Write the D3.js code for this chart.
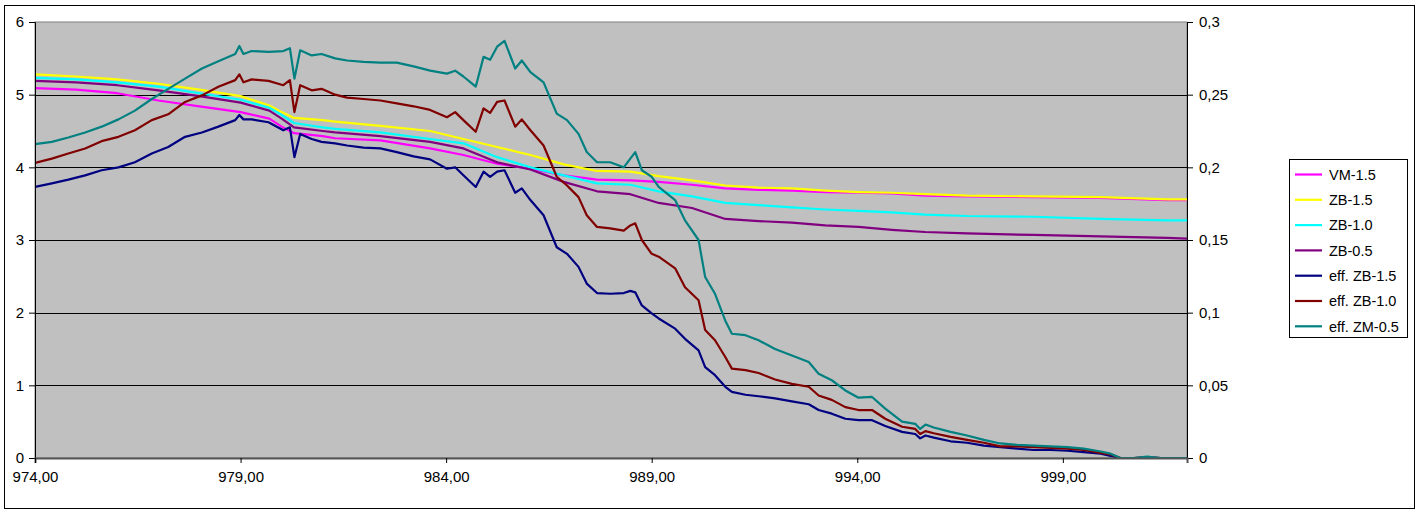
<!DOCTYPE html>
<html>
<head>
<meta charset="utf-8">
<script src="https://cdn.jsdelivr.net/npm/d3@7"></script>
<style>
  html, body { margin: 0; padding: 0; background: #fff; }
  svg { display: block; }
  text { font-family: "Liberation Sans", Arial, sans-serif; fill: #000; }
</style>
</head>
<body>
<svg id="chart" width="1420" height="512"></svg>
<script>
// ---------- data ----------
const seriesNames = ["VM-1.5", "ZB-1.5", "ZB-1.0", "ZB-0.5", "eff. ZB-1.5", "eff. ZB-1.0", "eff. ZM-0.5"];
const seriesColors = ["#FF00FF", "#FFFF00", "#00FFFF", "#800080", "#000080", "#800000", "#008080"];

const xTickValues = [974, 979, 984, 989, 994, 999];
const leftTicks = [0, 1, 2, 3, 4, 5, 6];
const rightTicks = [0, 0.05, 0.1, 0.15, 0.2, 0.25, 0.3];

// x positions for the primary-axis series
const xMain = [974, 975, 976, 977, 978, 979, 979.7, 980, 980.3, 981, 981.3,
  982.4, 983.61, 984.42, 985.24, 986.05, 986.86, 987.67, 988.48,
  989.17, 989.98, 990.79, 991.6, 992.41, 993.22, 994.03, 994.84, 995.65,
  996.67, 998.29, 999.92, 1001.54, 1002.02];

const vm15 = [5.09, 5.07, 5.02, 4.92, 4.84, 4.76, 4.67, 4.56, 4.47, 4.43, 4.40,
  4.37, 4.26, 4.17, 4.05, 3.98, 3.89, 3.83, 3.82,
  3.80, 3.76, 3.71, 3.69, 3.68, 3.66, 3.65, 3.64, 3.61,
  3.60, 3.59, 3.58, 3.55, 3.55];
const zb15 = [5.28, 5.25, 5.21, 5.15, 5.07, 4.98, 4.85, 4.76, 4.68, 4.65, 4.63,
  4.57, 4.50, 4.39, 4.28, 4.17, 4.04, 3.95, 3.94,
  3.88, 3.82, 3.75, 3.72, 3.71, 3.68, 3.66, 3.65, 3.63,
  3.61, 3.60, 3.59, 3.56, 3.56];
const zb10 = [5.23, 5.21, 5.17, 5.11, 5.02, 4.93, 4.82, 4.72, 4.61, 4.55, 4.53,
  4.48, 4.39, 4.33, 4.14, 4.00, 3.89, 3.78, 3.76,
  3.67, 3.60, 3.51, 3.48, 3.45, 3.42, 3.40, 3.38, 3.35,
  3.33, 3.32, 3.29, 3.27, 3.27];
const zb05 = [5.19, 5.17, 5.13, 5.06, 4.98, 4.89, 4.78, 4.67, 4.55, 4.50, 4.48,
  4.43, 4.35, 4.26, 4.07, 3.97, 3.80, 3.67, 3.63,
  3.51, 3.44, 3.29, 3.26, 3.24, 3.20, 3.18, 3.14, 3.11,
  3.09, 3.07, 3.05, 3.03, 3.02];

// x positions for the secondary-axis (eff.) series
const xEff = [
  974.00, 974.41, 974.81, 975.22, 975.62, 976.03, 976.43, 976.84, 977.24, 977.65,
  978.06, 978.46, 978.87, 978.97, 979.07, 979.27, 979.68, 980.04, 980.20, 980.31,
  980.45, 980.73, 980.97, 981.30, 981.59, 981.99, 982.40, 982.80, 983.21, 983.61,
  984.02, 984.22, 984.42, 984.72, 984.91, 985.07, 985.24, 985.42, 985.68, 985.84,
  986.05, 986.37, 986.69, 986.94, 987.22, 987.42, 987.67, 987.99, 988.32, 988.48,
  988.60, 988.76, 989.00, 989.17, 989.57, 989.81, 990.14, 990.30, 990.54, 990.79,
  990.95, 991.28, 991.60, 992.00, 992.41, 992.82, 993.06, 993.38, 993.71, 994.03,
  994.36, 994.68, 995.09, 995.41, 995.53, 995.66, 995.86, 996.27, 996.67, 997.08,
  997.48, 997.89, 998.29, 998.70, 999.11, 999.51, 999.92, 1000.16, 1000.40, 1000.73,
  1001.05, 1001.38, 1002.02];

const effZB15 = [
  .1865, .189, .1915, .1945, .198, .200, .2035, .2095, .214, .221,
  .224, .228, .2325, .236, .233, .233, .231, .2255, .2275, .207,
  .223, .2195, .2175, .2165, .215, .2135, .213, .2105, .2075, .2055,
  .199, .200, .1945, .1865, .197, .1935, .197, .198, .1825, .1855,
  .1775, .167, .145, .1405, .1315, .120, .1135, .113, .1135, .115,
  .114, .105, .0995, .096, .089, .082, .074, .0625, .057, .049,
  .0455, .0435, .0425, .041, .039, .037, .033, .0305, .027, .026,
  .026, .022, .018, .0165, .0135, .0155, .014, .0115, .0105, .0085,
  .0075, .0065, .0055, .0055, .005, .004, .003, .0015, 0, 0,
  .0005, 0, 0];
const effZB10 = [
  .203, .206, .2095, .213, .218, .221, .2255, .2325, .2365, .245,
  .2495, .2555, .260, .264, .2585, .2605, .2595, .2565, .260, .238,
  .2565, .253, .254, .250, .248, .247, .246, .244, .242, .2395,
  .2345, .238, .2325, .2245, .2405, .2375, .245, .246, .228, .233,
  .2255, .215, .1935, .1875, .1795, .167, .159, .158, .1565, .160,
  .1615, .150, .1405, .1385, .1305, .1175, .1085, .088, .081, .0695,
  .0615, .0605, .0585, .054, .051, .049, .043, .040, .035, .033,
  .033, .027, .0215, .020, .0165, .0185, .017, .0145, .0125, .0105,
  .008, .008, .0075, .007, .0065, .0055, .0035, .0025, 0, 0,
  .0005, 0, 0];
const effZM05 = [
  .216, .2175, .2205, .224, .228, .233, .239, .247, .254, .261,
  .268, .273, .278, .2835, .278, .280, .2795, .280, .282, .261,
  .2805, .277, .278, .275, .2735, .2725, .272, .272, .2695, .2665,
  .2645, .2665, .2625, .2555, .276, .274, .283, .287, .268, .2735,
  .2655, .2585, .237, .2325, .223, .2105, .2035, .2035, .200, .206,
  .2105, .198, .1935, .1865, .1775, .1635, .150, .1245, .113, .0945,
  .0855, .0845, .081, .075, .0705, .066, .058, .0535, .0465, .0415,
  .042, .034, .025, .0235, .020, .023, .021, .018, .0155, .0125,
  .010, .009, .0085, .008, .0075, .0065, .0045, .003, 0, 0,
  .001, 0, 0];

// ---------- drawing ----------
const svg = d3.select("#chart");
const pLeft = 35, pRight = 1187, pTop = 22, pBottom = 458;

const x = d3.scaleLinear().domain([974, 1002.02]).range([pLeft, pRight]);
const yL = d3.scaleLinear().domain([0, 6]).range([pBottom, pTop]);
const yR = d3.scaleLinear().domain([0, 0.3]).range([pBottom, pTop]);

const loc = d3.formatLocale({decimal: ",", thousands: ".", grouping: [3], currency: ["", ""]});
const fmtX = loc.format(".2f");
const fmtR = v => v === 0 ? "0" : loc.format("")(+v.toFixed(2));

// outer chart border
svg.append("rect").attr("x", 4.5).attr("y", 5.5).attr("width", 1410).attr("height", 503)
  .attr("fill", "#fff").attr("stroke", "#000").attr("stroke-width", 1);

// plot area
svg.append("rect").attr("x", pLeft).attr("y", pTop).attr("width", pRight - pLeft).attr("height", pBottom - pTop)
  .attr("fill", "#C0C0C0").attr("stroke", "#808080").attr("stroke-width", 1);

// gridlines
svg.append("g").selectAll("line").data(leftTicks.filter(d => d > 0 && d < 6)).join("line")
  .attr("x1", pLeft).attr("x2", pRight)
  .attr("y1", d => Math.round(yL(d)) + 0.5).attr("y2", d => Math.round(yL(d)) + 0.5)
  .attr("stroke", "#000").attr("stroke-width", 1);

// clip
svg.append("clipPath").attr("id", "clip").append("rect")
  .attr("x", pLeft).attr("y", pTop - 2).attr("width", pRight - pLeft).attr("height", pBottom - pTop + 2);

const linesG = svg.append("g").attr("clip-path", "url(#clip)");
const primary = [vm15, zb15, zb10, zb05];
const secondary = [effZB15, effZB10, effZM05];

primary.forEach((vals, i) => {
  const line = d3.line().x((d, j) => x(xMain[j])).y(d => yL(d));
  linesG.append("path").datum(vals).attr("d", line)
    .attr("fill", "none").attr("stroke", seriesColors[i]).attr("stroke-width", 2.2)
    .attr("stroke-linejoin", "round");
});
secondary.forEach((vals, i) => {
  const line = d3.line().x((d, j) => x(xEff[j])).y(d => yR(d));
  linesG.append("path").datum(vals).attr("d", line)
    .attr("fill", "none").attr("stroke", seriesColors[4 + i]).attr("stroke-width", 2.2)
    .attr("stroke-linejoin", "round");
});

// axes
const axisL = d3.axisLeft(yL).tickValues(leftTicks).tickFormat(d3.format("d")).tickSize(6).tickPadding(5);
const gL = svg.append("g").attr("transform", `translate(${pLeft},0)`).call(axisL);
const axisR = d3.axisRight(yR).tickValues(rightTicks).tickFormat(fmtR).tickSize(6).tickPadding(6);
const gR = svg.append("g").attr("transform", `translate(${pRight},0)`).call(axisR);
const axisB = d3.axisBottom(x).tickValues(xTickValues).tickFormat(fmtX).tickSize(5).tickPadding(8);
const gB = svg.append("g").attr("transform", `translate(0,${pBottom})`).call(axisB);

[gL, gR, gB].forEach(g => {
  g.selectAll("path.domain").attr("stroke", "#000").attr("stroke-width", 1);
  g.selectAll(".tick line").attr("stroke", "#000");
  g.selectAll("text").style("font-size", "15px").style("font-family", "'Liberation Sans', Arial, sans-serif");
});
gB.select("path.domain").attr("stroke", "#555").attr("stroke-width", 2);

// legend
const lg = svg.append("g");
lg.append("rect").attr("x", 1289.5).attr("y", 159.5).attr("width", 118).attr("height", 178)
  .attr("fill", "#fff").attr("stroke", "#000").attr("stroke-width", 1);
seriesNames.forEach((n, i) => {
  const cy = 174.5 + i * 25.3;
  lg.append("line").attr("x1", 1295).attr("x2", 1322).attr("y1", cy).attr("y2", cy)
    .attr("stroke", seriesColors[i]).attr("stroke-width", 2.2);
  lg.append("text").attr("x", 1329).attr("y", cy).attr("dy", "0.36em")
    .style("font-size", "14.5px").text(n);
});
</script>
</body>
</html>
